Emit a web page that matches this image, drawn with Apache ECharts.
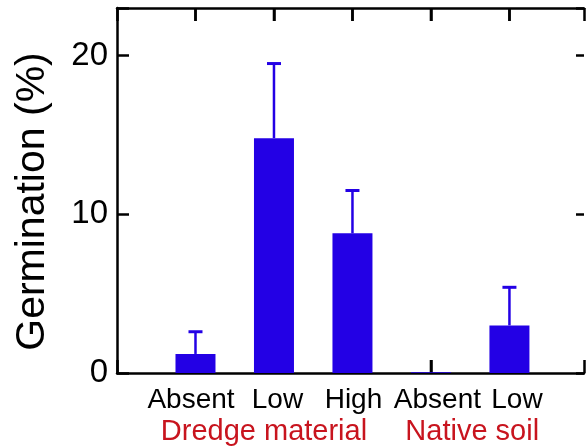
<!DOCTYPE html>
<html>
<head>
<meta charset="utf-8">
<script src="https://cdn.jsdelivr.net/npm/echarts@6/dist/echarts.min.js"></script>
<style>
html,body{margin:0;padding:0;background:#fff;}
#chart{width:587px;height:448px;}
</style>
</head>
<body>
<div id="chart"></div>
<script>
// Data
var categories = ['Absent', 'Low', 'High', 'Absent', 'Low'];
var germination = [1.2, 14.8, 8.8, 0.05, 3.0];
var errorUp = [1.4, 4.7, 2.7, null, 2.4];
var groups = ['Dredge material', 'Native soil'];
var groupSpans = [[0, 2], [3, 4]];
var yTicks = [0, 10, 20];

var BLUE = '#2300e5';
var FONT = '"Liberation Sans", Arial, Helvetica, sans-serif';
var YMIN = 0, YMAX = 23, XMAX = 5.95;

var chart = echarts.init(document.getElementById('chart'), null, {renderer: 'canvas'});

var catPos = categories.map(function (c, i) { return i + 1; });
var barData = germination.map(function (v, i) { return [catPos[i], v]; });
var errData = [];
germination.forEach(function (v, i) {
  if (errorUp[i] != null) errData.push([catPos[i], v, v + errorUp[i]]);
});
var tickData = catPos.map(function (p) { return [p, YMIN, YMAX]; });

function axisLine() { return {onZero: false, lineStyle: {color: '#000', width: 2.5}}; }
function tick(len) { return {show: true, inside: true, length: len, lineStyle: {color: '#000', width: 2.5}}; }

var labelPads = [[0, 9, 0, 0], [0, 0, 0, 7], [0, 0, 0, 2], [0, 0, 0, 13], [0, 0, 0, 15]];
var rich = {};
labelPads.forEach(function (p, i) {
  rich['c' + i] = {fontSize: 28, color: '#000', fontFamily: FONT, padding: p};
});

var option = {
  animation: false,
  backgroundColor: '#fff',
  grid: {left: 117, top: 8, right: 0, bottom: 75, containLabel: false},
  xAxis: [{
    type: 'value', min: 0, max: XMAX, interval: 1, position: 'bottom',
    axisLine: axisLine(),
    axisTick: tick(13),
    splitLine: {show: false},
    axisLabel: {
      margin: 13, fontSize: 28, color: '#000', fontFamily: FONT, rich: rich,
      formatter: function (v) {
        var i = catPos.indexOf(Math.round(v));
        return (i >= 0 && Math.abs(v - catPos[i]) < 1e-6) ? '{c' + i + '|' + categories[i] + '}' : '';
      }
    }
  }, {
    type: 'value', min: 0, max: XMAX, interval: 1, position: 'top',
    axisLine: axisLine(),
    axisTick: tick(13),
    splitLine: {show: false},
    axisLabel: {show: false}
  }],
  yAxis: [{
    type: 'value', min: YMIN, max: YMAX, interval: 10, position: 'left',
    axisLine: axisLine(),
    axisTick: tick(12),
    splitLine: {show: false},
    axisLabel: {margin: 9, fontSize: 33, color: '#000', fontFamily: FONT,
      formatter: function (v) { return yTicks.indexOf(v) >= 0 ? String(v) : ''; }},
    name: 'Germination (%)',
    nameLocation: 'middle', nameRotate: 90, nameGap: 64,
    nameTextStyle: {fontSize: 41, color: '#000', fontFamily: FONT, padding: [0, 22, 0, 0]}
  }, {
    type: 'value', min: YMIN, max: YMAX, interval: 10, position: 'right',
    axisLine: {show: false, onZero: false},
    axisTick: tick(8),
    splitLine: {show: false},
    axisLabel: {show: false}
  }],
  series: [{
    // category tick marks on the bottom frame, beneath the bars
    type: 'custom',
    data: tickData,
    z: 1,
    silent: true,
    clip: false,
    renderItem: function (params, api) {
      var bot = api.coord([api.value(0), api.value(1)]);
      return {
        type: 'rect',
        shape: {x: bot[0] - 1.25, y: bot[1] - 13, width: 2.5, height: 13},
        style: {fill: '#000'}
      };
    }
  }, {
    type: 'bar',
    data: barData,
    barWidth: 40,
    itemStyle: {color: BLUE},
    z: 3
  }, {
    type: 'custom',
    data: errData,
    z: 2,
    renderItem: function (params, api) {
      var x = api.value(0);
      var base = api.coord([x, api.value(1)]);
      var top = api.coord([x, api.value(2)]);
      var hw = 7;
      return {
        type: 'group',
        children: [{
          type: 'line',
          shape: {x1: base[0], y1: base[1], x2: top[0], y2: top[1]},
          style: {stroke: BLUE, lineWidth: 2.5}
        }, {
          type: 'line',
          shape: {x1: top[0] - hw, y1: top[1], x2: top[0] + hw, y2: top[1]},
          style: {stroke: BLUE, lineWidth: 3}
        }]
      };
    }
  }, {
    // category tick marks on the top frame
    type: 'custom',
    data: tickData,
    z: 10,
    silent: true,
    clip: false,
    renderItem: function (params, api) {
      var top = api.coord([api.value(0), api.value(2)]);
      return {
        type: 'rect',
        shape: {x: top[0] - 1.25, y: top[1], width: 2.5, height: 13},
        style: {fill: '#000'}
      };
    }
  }]
};
chart.setOption(option);

// group labels positioned from the axis scales
var groupOffsets = [-10, 2];
var y0 = chart.convertToPixel({yAxisIndex: 0}, 0);
var gfx = groups.map(function (g, k) {
  var a = chart.convertToPixel({xAxisIndex: 0}, catPos[groupSpans[k][0]]);
  var b = chart.convertToPixel({xAxisIndex: 0}, catPos[groupSpans[k][1]]);
  return {
    type: 'text',
    x: (a + b) / 2 + groupOffsets[k],
    y: y0 + 44,
    style: {text: g, fill: '#c8141e', fontSize: 29, fontFamily: FONT, align: 'center', verticalAlign: 'top'}
  };
});
chart.setOption({graphic: gfx});
</script>
</body>
</html>
